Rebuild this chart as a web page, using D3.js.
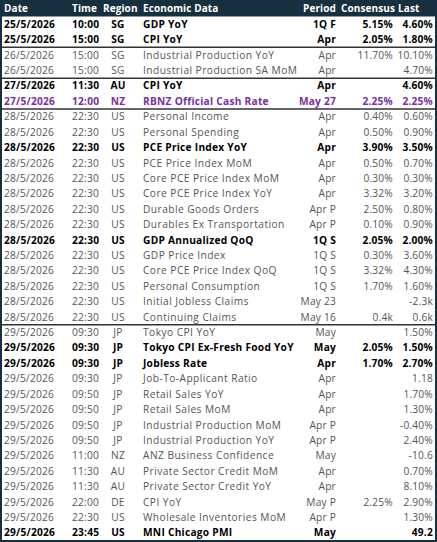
<!DOCTYPE html><html><head><meta charset="utf-8"><script src="https://cdn.jsdelivr.net/npm/d3@7"></script>
<style>body{margin:0;background:#fff}</style></head><body><svg id="c" width="437" height="542"></svg>
<script>
const headers=["Date","Time","Region","Economic Data","Period","Consensus","Last"];
const dates=["25/5/2026","25/5/2026","26/5/2026","26/5/2026","27/5/2026","27/5/2026","28/5/2026","28/5/2026","28/5/2026","28/5/2026","28/5/2026","28/5/2026","28/5/2026","28/5/2026","28/5/2026","28/5/2026","28/5/2026","28/5/2026","28/5/2026","28/5/2026","29/5/2026","29/5/2026","29/5/2026","29/5/2026","29/5/2026","29/5/2026","29/5/2026","29/5/2026","29/5/2026","29/5/2026","29/5/2026","29/5/2026","29/5/2026","29/5/2026"];
const times=["10:00","15:00","15:00","15:00","11:30","12:00","22:30","22:30","22:30","22:30","22:30","22:30","22:30","22:30","22:30","22:30","22:30","22:30","22:30","22:30","09:30","09:30","09:30","09:30","09:50","09:50","09:50","09:50","11:00","11:30","11:30","22:00","22:30","23:45"];
const regions=["SG","SG","SG","SG","AU","NZ","US","US","US","US","US","US","US","US","US","US","US","US","US","US","JP","JP","JP","JP","JP","JP","JP","JP","NZ","AU","AU","DE","US","US"];
const events=["GDP YoY","CPI YoY","Industrial Production YoY","Industrial Production SA MoM","CPI YoY","RBNZ Official Cash Rate","Personal Income","Personal Spending","PCE Price Index YoY","PCE Price Index MoM","Core PCE Price Index MoM","Core PCE Price Index YoY","Durable Goods Orders","Durables Ex Transportation","GDP Annualized QoQ","GDP Price Index","Core PCE Price Index QoQ","Personal Consumption","Initial Jobless Claims","Continuing Claims","Tokyo CPI YoY","Tokyo CPI Ex-Fresh Food YoY","Jobless Rate","Job-To-Applicant Ratio","Retail Sales YoY","Retail Sales MoM","Industrial Production MoM","Industrial Production YoY","ANZ Business Confidence","Private Sector Credit MoM","Private Sector Credit YoY","CPI YoY","Wholesale Inventories MoM","MNI Chicago PMI"];
const periods=["1Q F","Apr","Apr","Apr","Apr","May 27","Apr","Apr","Apr","Apr","Apr","Apr","Apr P","Apr P","1Q S","1Q S","1Q S","1Q S","May 23","May 16","May","May","Apr","Apr","Apr","Apr","Apr P","Apr P","May","Apr","Apr","May P","Apr P","May"];
const consensus=["5.15%","2.05%","11.70%","","","2.25%","0.40%","0.50%","3.90%","0.50%","0.30%","3.32%","2.50%","0.10%","2.05%","0.30%","3.32%","1.70%","","0.4k","","2.05%","1.70%","","","","","","","","","2.25%","",""];
const last=["4.60%","1.80%","10.10%","4.70%","4.60%","2.25%","0.60%","0.90%","3.50%","0.70%","0.30%","3.20%","0.80%","0.90%","2.00%","3.60%","4.30%","1.60%","-2.3k","0.6k","1.50%","1.50%","2.70%","1.18","1.70%","1.30%","-0.40%","2.40%","-10.6","0.70%","8.10%","2.90%","1.30%","49.2"];
const bold=[0,1,4,5,8,14,21,22,33];
const purple=[5];
const groupBreaks=[2,4,6,20];

const svg=d3.select("#c");
const W=437,H=542,hdrH=16.5;
const y=d3.scaleBand().domain(d3.range(dates.length)).range([hdrH,H-1.5]);
const font="'Open Sans', 'DejaVu Sans', sans-serif";
svg.append("rect").attr("x",0).attr("y",0).attr("width",W).attr("height",hdrH).attr("fill","#17303d");
const hx=[4,72,103,143,336,341,398],ha=["start","start","start","start","end","start","start"];
svg.selectAll("text.h").data(headers).join("text").attr("x",(d,i)=>hx[i]).attr("y",12)
 .attr("text-anchor",(d,i)=>ha[i]).attr("fill","#fff").attr("font-weight","bold").attr("font-size",10).attr("letter-spacing",0.1).attr("font-family",font).text(d=>d);
const fields=[dates,times,regions,events,periods,consensus,last];
const cx=[4,72,118,143,336,393,433],anc=["start","start","middle","start","end","end","end"];
d3.range(dates.length).forEach(r=>{
  const b=bold.includes(r),p=purple.includes(r);
  const fill=p?"#7a2ea0":(b?"#000":"#555");
  fields.forEach((f,c)=>{
    svg.append("text").attr("x",cx[c]).attr("y",y(r)+y.bandwidth()/2+3.6).attr("text-anchor",anc[c])
     .attr("fill",fill).attr("font-weight",b?"bold":"normal").attr("font-size",10.2)
     .attr("letter-spacing",c===3?(b?0.25:0.45):0.2).attr("font-family",font).text(f[r]);
  });
});
groupBreaks.forEach(g=>svg.append("line").attr("x1",0).attr("x2",W).attr("y1",y(g)).attr("y2",y(g)).attr("stroke","#333").attr("stroke-width",1.5));
svg.append("rect").attr("x",1).attr("y",1).attr("width",W-2).attr("height",H-2).attr("fill","none").attr("stroke","#17303d").attr("stroke-width",2);
</script></body></html>
